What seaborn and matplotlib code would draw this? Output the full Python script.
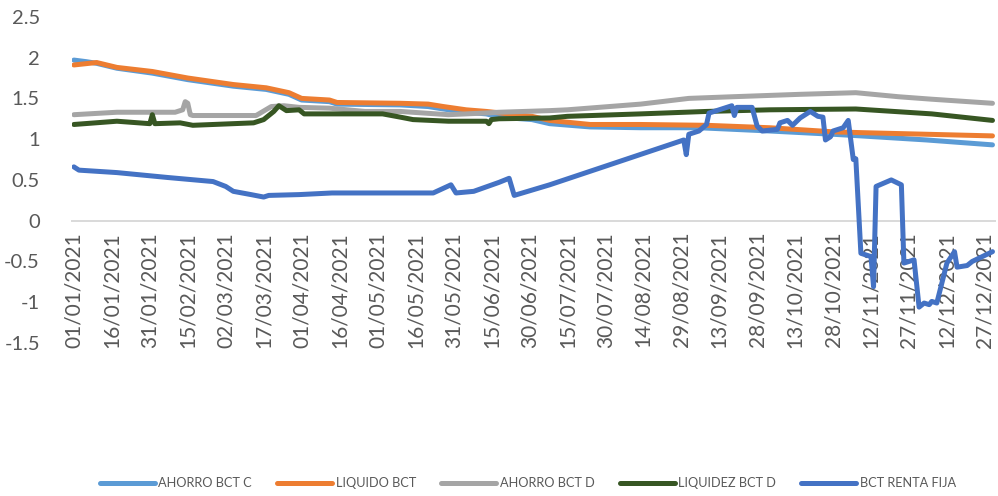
import pandas as pd
import matplotlib
matplotlib.use("Agg")
import matplotlib.pyplot as plt
import matplotlib.dates as mdates
from matplotlib.ticker import FuncFormatter
import seaborn as sns

# día del año (0 = 01/01/2021) y valor
ahorro_c_dias = [0, 5, 9, 17, 31, 45, 63, 76, 85, 90, 101, 104, 129, 140, 146, 155, 163, 168,
                 181, 188, 204, 224, 247, 275, 300, 311, 337, 363]
ahorro_c_vals = [1.97, 1.95, 1.93, 1.87, 1.81, 1.73, 1.65, 1.61, 1.55, 1.48, 1.46, 1.43, 1.42, 1.40,
                 1.37, 1.33, 1.31, 1.27, 1.24, 1.19, 1.15, 1.14, 1.14, 1.10, 1.06, 1.04, 0.99, 0.93]

liquido_dias = [0, 9, 17, 31, 45, 63, 76, 85, 90, 101, 104, 129, 140, 146, 155, 163, 181, 188,
                204, 224, 250, 275, 300, 311, 337, 363]
liquido_vals = [1.91, 1.94, 1.88, 1.83, 1.75, 1.67, 1.63, 1.57, 1.50, 1.48, 1.45, 1.44, 1.43, 1.40,
                1.36, 1.34, 1.28, 1.23, 1.18, 1.18, 1.17, 1.14, 1.09, 1.08, 1.06, 1.04]

ahorro_d_dias = [0, 17, 40, 43, 44, 45, 46, 47, 63, 72, 78, 83, 89, 101, 115, 129, 148, 162, 168,
                 188, 195, 224, 243, 260, 287, 309, 326, 339, 363]
ahorro_d_vals = [1.30, 1.33, 1.33, 1.36, 1.46, 1.44, 1.30, 1.29, 1.29, 1.29, 1.40, 1.41, 1.39, 1.38,
                 1.34, 1.34, 1.30, 1.32, 1.33, 1.35, 1.36, 1.43, 1.50, 1.52, 1.55, 1.57, 1.52, 1.49,
                 1.44]

liquidez_d_dias = [0, 17, 30, 31, 32, 42, 47, 63, 71, 75, 79, 81, 84, 89, 91, 102, 122, 129, 134,
                   148, 163, 164, 165, 168, 188, 195, 224, 250, 275, 309, 339, 363]
liquidez_d_vals = [1.18, 1.22, 1.19, 1.30, 1.19, 1.20, 1.17, 1.19, 1.20, 1.24, 1.34, 1.41, 1.35,
                   1.36, 1.31, 1.31, 1.31, 1.27, 1.24, 1.22, 1.22, 1.19, 1.24, 1.25, 1.26, 1.28,
                   1.31, 1.34, 1.36, 1.37, 1.31, 1.23]

renta_fija_dias = [0, 2, 17, 37, 55, 60, 63, 70, 75, 77, 89, 102, 142, 149, 151, 158, 168, 172,
                   174, 188, 215, 241, 242, 243, 247, 250, 251, 255, 260, 261, 262, 268, 270, 272,
                   278, 279, 282, 284, 287, 291, 294, 296, 297, 299, 300, 304, 306, 308, 309, 311,
                   315, 316, 317, 323, 327, 328, 332, 334, 336, 338, 339, 341, 345, 348, 349, 353,
                   355, 363]
renta_fija_vals = [0.66, 0.62, 0.59, 0.53, 0.48, 0.42, 0.36, 0.32, 0.29, 0.31, 0.32, 0.34, 0.34,
                   0.44, 0.34, 0.36, 0.47, 0.52, 0.31, 0.44, 0.72, 0.99, 0.81, 1.06, 1.10, 1.18,
                   1.32, 1.36, 1.41, 1.29, 1.39, 1.39, 1.16, 1.10, 1.12, 1.20, 1.23, 1.17, 1.26,
                   1.34, 1.28, 1.27, 0.99, 1.03, 1.10, 1.14, 1.23, 0.75, 0.76, -0.40, -0.44, -0.81,
                   0.42, 0.50, 0.44, -0.52, -0.48, -1.06, -1.01, -1.03, -0.99, -1.01, -0.52, -0.38,
                   -0.57, -0.55, -0.50, -0.38]

series = [
    ("AHORRO BCT C", ahorro_c_dias, ahorro_c_vals, "#5B9BD5"),
    ("LIQUIDO BCT", liquido_dias, liquido_vals, "#ED7D31"),
    ("AHORRO BCT D", ahorro_d_dias, ahorro_d_vals, "#A5A5A5"),
    ("LIQUIDEZ BCT D", liquidez_d_dias, liquidez_d_vals, "#375623"),
    ("BCT RENTA FIJA", renta_fija_dias, renta_fija_vals, "#4472C4"),
]

inicio = pd.Timestamp("2021-01-01")

sns.set_style("white")
plt.rcParams['font.family'] = ['Lato', 'DejaVu Sans']

fig = plt.figure(figsize=(9.98, 4.96), dpi=100)
ax = fig.add_axes([0.072, 0.3085, 0.925, 0.6575])

for nombre, dias, vals, color in series:
    fechas = inicio + pd.to_timedelta(dias, unit="D")
    sns.lineplot(x=fechas, y=vals, ax=ax, color=color, lw=3.6, label=nombre,
                 solid_joinstyle="round", solid_capstyle="round")

ax.set_xlim(inicio - pd.Timedelta(days=0.8), pd.Timestamp("2021-12-31"))
ax.set_ylim(-1.5, 2.5)
ax.set_yticks([-1.5, -1, -0.5, 0, 0.5, 1, 1.5, 2, 2.5])
ax.yaxis.set_major_formatter(FuncFormatter(lambda v, p: "%g" % v))

ax.set_xticks(pd.date_range("2021-01-01", "2021-12-31", freq="15D"))
ax.xaxis.set_major_formatter(mdates.DateFormatter("%d/%m/%Y"))

for s in ["top", "right", "left"]:
    ax.spines[s].set_visible(False)
ax.spines["bottom"].set_position(("data", 0))
ax.spines["bottom"].set_color("#D9D9D9")
ax.spines["bottom"].set_linewidth(1.4)
ax.spines["bottom"].set_zorder(1)
ax.set_axisbelow(True)

ax.tick_params(axis="both", length=0, labelsize=14.5, labelcolor="#595959")
ax.tick_params(axis="x", pad=8, labelsize=15, labelrotation=90)
ax.tick_params(axis="y", pad=23)
ax.set_xlabel("")
ax.set_ylabel("")

handles, labels = ax.get_legend_handles_labels()
ax.get_legend().remove()
fig.legend(handles, labels, loc="center", bbox_to_anchor=(0.529, 0.026), ncol=5,
           frameon=False, fontsize=9.2, handlelength=4.3, handletextpad=0.25,
           columnspacing=2.0, labelcolor="#595959")

fig.savefig("out.png", dpi=100)
